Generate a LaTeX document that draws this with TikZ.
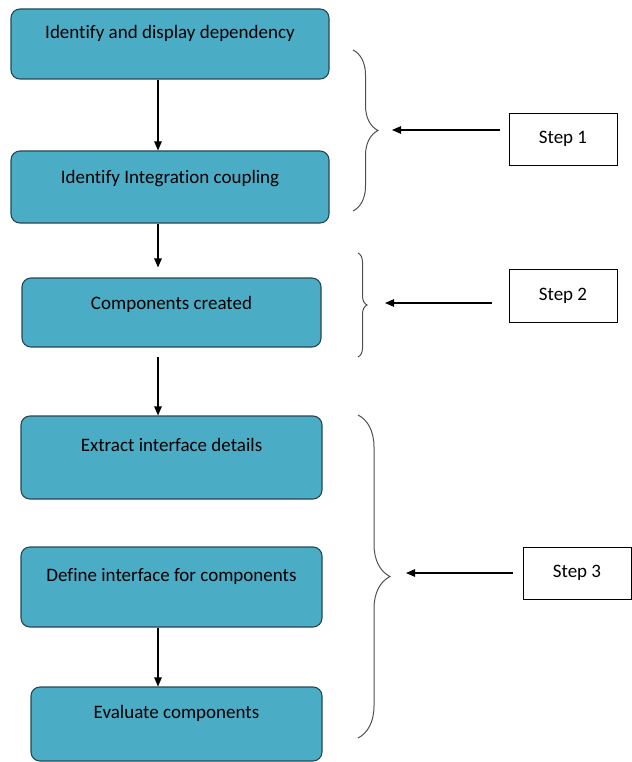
\documentclass[tikz,border=0pt]{standalone}
\usepackage{fontspec}
\setmainfont[Ligatures={NoCommon}]{Carlito}
\usetikzlibrary{arrows.meta,decorations.pathreplacing}
\definecolor{procfill}{RGB}{75,172,198}
\definecolor{procline}{RGB}{38,72,84}
\definecolor{bracegray}{RGB}{80,80,80}

\begin{document}
\begin{tikzpicture}[x=1pt,y=-1pt,
    procbox/.style={draw=procline,line width=1.1pt,fill=procfill,rounded corners=9pt,inner ysep=0pt,text height=13pt,font=\fontsize{19}{22}\selectfont,align=center},
    stepbox/.style={draw,line width=0.8pt,fill=white,minimum width=108pt,minimum height=52pt,font=\fontsize{19}{22}\selectfont},
    flow/.style={-{Triangle[length=9pt,width=7.5pt]},line width=1.1pt},
    stepbrace/.style={decorate,decoration={brace,amplitude=#1},draw=bracegray,line width=1pt}
]
\useasboundingbox (0,0) rectangle (631,762);

% process boxes
\node[procbox,minimum width=318pt,minimum height=70pt,text depth=23pt] (dep) at (170,44) {Identify and display dependency};
\node[procbox,minimum width=318pt,minimum height=72pt,text depth=21pt] (coup) at (170,187) {Identify Integration coupling};
\node[procbox,minimum width=299pt,minimum height=69pt,text depth=20pt] (comp) at (171.5,312.5) {Components created};
\node[procbox,minimum width=301pt,minimum height=83pt,text depth=26pt] (extr) at (171.5,457.5) {Extract interface details};
\node[procbox,minimum width=301pt,minimum height=80pt,text depth=25pt] (defi) at (171.5,587) {Define interface for components};
\node[procbox,minimum width=291pt,minimum height=74pt,text depth=25pt] (eval) at (176.5,724) {Evaluate components};

\coordinate (axis) at (158,0);
\draw[flow] (dep.south -| axis) -- (coup.north -| axis);
\draw[flow,shorten >=10pt] (coup.south -| axis) -- (comp.north -| axis);
\draw[flow,shorten <=9pt] (comp.south -| axis) -- (extr.north -| axis);
\draw[flow] (defi.south -| axis) -- (eval.north -| axis);

% braces
\draw[stepbrace=25pt] (353,50) -- (353,211);
\draw[stepbrace=9pt] (358,253) -- (358,357);
\draw[stepbrace=32pt] (358,415) -- (358,738);

% step boxes
\node[stepbox] (s1) at (563,139) {Step 1};
\node[stepbox,minimum height=53pt] (s2) at (563,295.5) {Step 2};
\node[stepbox] (s3) at (577,573) {Step 3};

\coordinate (tip1) at (392,130);
\coordinate (tip2) at (385,303);
\coordinate (tip3) at (406,573);
\draw[flow,shorten <=9pt] (s1.west |- tip1) -- (tip1);
\draw[flow,shorten <=17pt] (s2.west |- tip2) -- (tip2);
\draw[flow,shorten <=10pt] (s3.west |- tip3) -- (tip3);
\end{tikzpicture}
\end{document}
